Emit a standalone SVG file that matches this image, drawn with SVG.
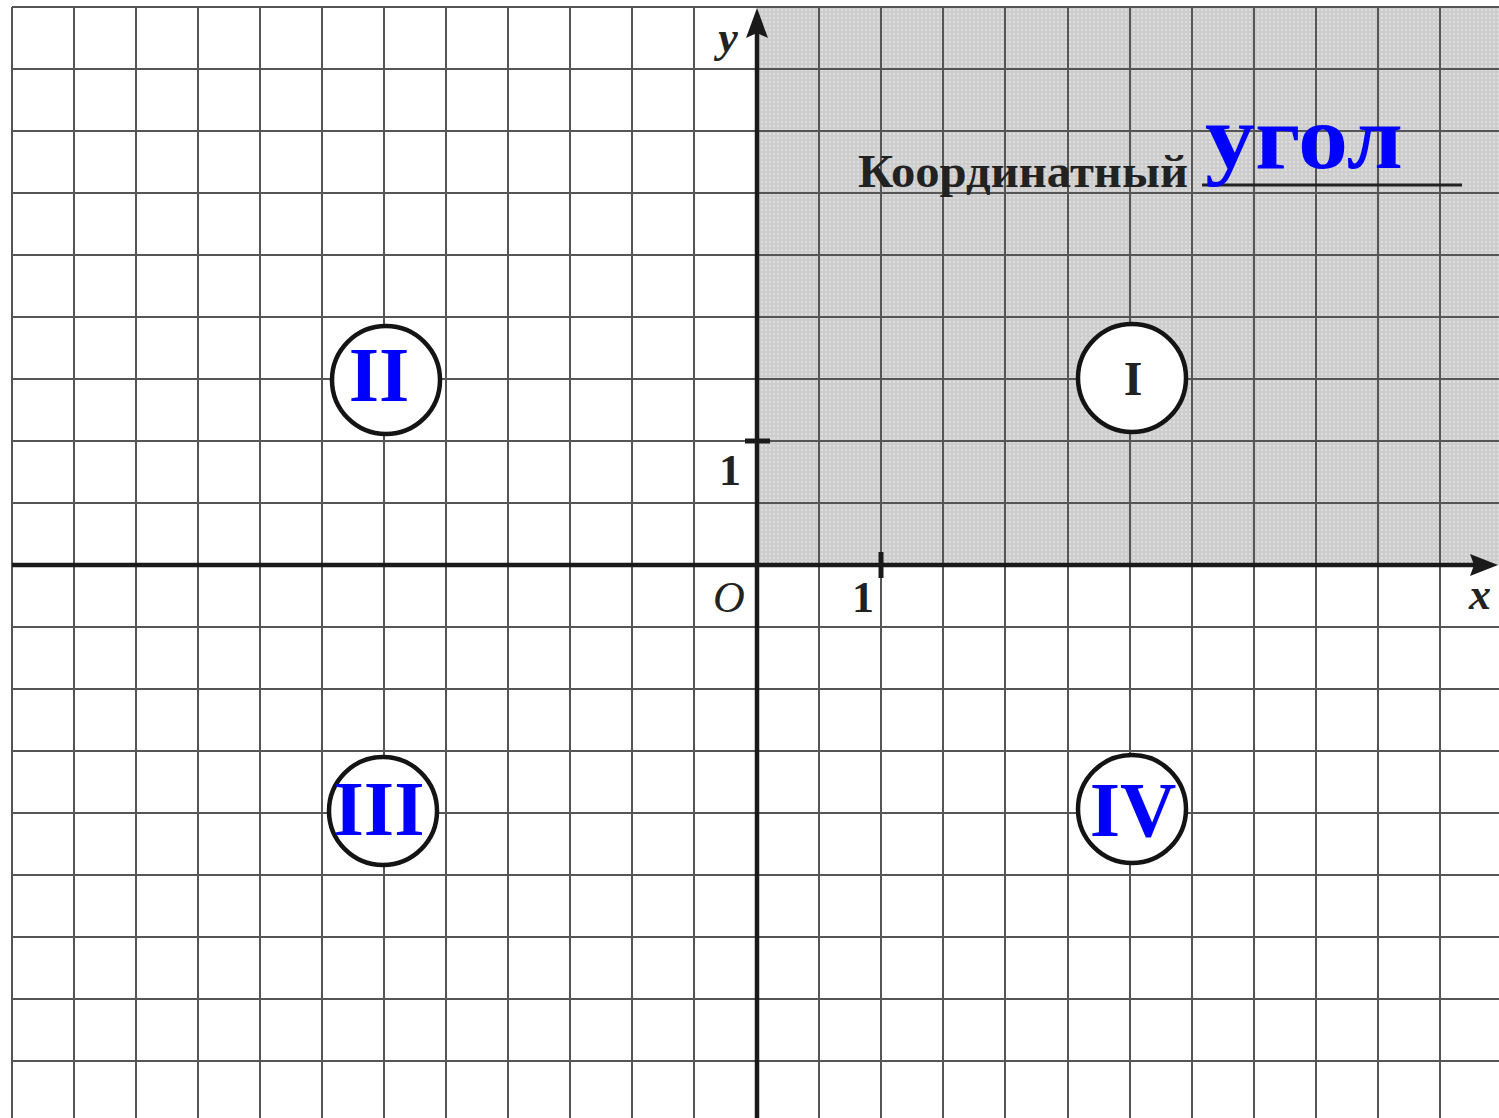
<svg xmlns="http://www.w3.org/2000/svg" width="1499" height="1118" viewBox="0 0 1499 1118">
  <defs>
    <pattern id="dots" width="4" height="4" patternUnits="userSpaceOnUse">
      <rect width="4" height="4" fill="#cdcdcd"/>
      <rect x="1" y="1" width="2" height="2" fill="#dedede"/>
    </pattern>
  </defs>
  <style>
    .grid line { stroke: #555555; stroke-width: 2; }
    .axis { stroke: #1a1a1a; stroke-width: 4.5; fill: none; }
    .tick { stroke: #1a1a1a; stroke-width: 5; }
    .arrow { fill: #1a1a1a; }
    .ring { fill: #ffffff; stroke: #141414; stroke-width: 4.5; }
    .roman { font-family: "Liberation Serif", "Times New Roman", serif; font-weight: bold; font-size: 78px; fill: #0000ff; text-anchor: middle; }
    .label { font-family: "Liberation Serif", "Times New Roman", serif; fill: #222222; }
    .ital { font-style: italic; font-size: 44px; }
    .num { font-size: 44px; font-weight: bold; text-anchor: middle; }
  </style>
  <rect x="0" y="0" width="1499" height="1118" fill="#ffffff"/>
  <rect x="757" y="8" width="742" height="557" fill="url(#dots)"/>
  <g class="grid" id="grid">
    <line x1="12" y1="7" x2="12" y2="1118"/>
    <line x1="74" y1="7" x2="74" y2="1118"/>
    <line x1="136" y1="7" x2="136" y2="1118"/>
    <line x1="198" y1="7" x2="198" y2="1118"/>
    <line x1="260" y1="7" x2="260" y2="1118"/>
    <line x1="322" y1="7" x2="322" y2="1118"/>
    <line x1="384" y1="7" x2="384" y2="1118"/>
    <line x1="446" y1="7" x2="446" y2="1118"/>
    <line x1="508" y1="7" x2="508" y2="1118"/>
    <line x1="570" y1="7" x2="570" y2="1118"/>
    <line x1="632" y1="7" x2="632" y2="1118"/>
    <line x1="694" y1="7" x2="694" y2="1118"/>
    <line x1="819" y1="7" x2="819" y2="1118"/>
    <line x1="881" y1="7" x2="881" y2="1118"/>
    <line x1="943" y1="7" x2="943" y2="1118"/>
    <line x1="1005" y1="7" x2="1005" y2="1118"/>
    <line x1="1068" y1="7" x2="1068" y2="1118"/>
    <line x1="1130" y1="7" x2="1130" y2="1118"/>
    <line x1="1192" y1="7" x2="1192" y2="1118"/>
    <line x1="1254" y1="7" x2="1254" y2="1118"/>
    <line x1="1316" y1="7" x2="1316" y2="1118"/>
    <line x1="1378" y1="7" x2="1378" y2="1118"/>
    <line x1="1440" y1="7" x2="1440" y2="1118"/>
    <line x1="12" y1="7" x2="1499" y2="7"/>
    <line x1="12" y1="69" x2="1499" y2="69"/>
    <line x1="12" y1="131" x2="1499" y2="131"/>
    <line x1="12" y1="193" x2="1499" y2="193"/>
    <line x1="12" y1="255" x2="1499" y2="255"/>
    <line x1="12" y1="317" x2="1499" y2="317"/>
    <line x1="12" y1="379" x2="1499" y2="379"/>
    <line x1="12" y1="441" x2="1499" y2="441"/>
    <line x1="12" y1="503" x2="1499" y2="503"/>
    <line x1="12" y1="627" x2="1499" y2="627"/>
    <line x1="12" y1="689" x2="1499" y2="689"/>
    <line x1="12" y1="751" x2="1499" y2="751"/>
    <line x1="12" y1="813" x2="1499" y2="813"/>
    <line x1="12" y1="875" x2="1499" y2="875"/>
    <line x1="12" y1="937" x2="1499" y2="937"/>
    <line x1="12" y1="999" x2="1499" y2="999"/>
    <line x1="12" y1="1061" x2="1499" y2="1061"/>
  </g>
  <g id="connectors">
    <line class="axis" x1="12" y1="565" x2="1478" y2="565"/>
    <polygon class="arrow" points="1498,565 1470,554 1474,565 1470,576"/>
    <line class="axis" x1="757" y1="1118" x2="757" y2="30"/>
    <polygon class="arrow" points="757,8 746,38 757,33 768,38"/>
    <line class="tick" x1="745" y1="441" x2="770" y2="441"/>
    <line class="tick" x1="881" y1="552" x2="881" y2="578"/>
  </g>
  <g id="axis-labels">
    <text class="label ital" x="728" y="52" text-anchor="middle" font-weight="bold">y</text>
    <text class="label ital" x="1480" y="609" text-anchor="middle" font-weight="bold">x</text>
    <text class="label ital" x="729" y="612" text-anchor="middle">O</text>
    <text class="label num" x="730" y="485">1</text>
    <text class="label num" x="863" y="612">1</text>
  </g>
  <g id="title">
    <text class="label" x="858" y="187" font-size="47" font-weight="bold" textLength="330" lengthAdjust="spacingAndGlyphs">Координатный</text>
    <line x1="1202" y1="185" x2="1462" y2="185" stroke="#222222" stroke-width="3"/>
    <text x="1205" y="168" font-family="'Liberation Serif', 'Times New Roman', serif" font-weight="bold" font-size="90" fill="#0000ff" textLength="198" lengthAdjust="spacingAndGlyphs">угол</text>
  </g>
  <g id="quadrant-I">
    <circle class="ring" cx="1132" cy="378" r="54"/>
    <text class="label" x="1133" y="395" text-anchor="middle" font-size="48" font-weight="bold">I</text>
  </g>
  <g id="quadrant-II">
    <circle class="ring" cx="386" cy="380" r="54"/>
    <text class="roman" x="379" y="401">II</text>
  </g>
  <g id="quadrant-III">
    <circle class="ring" cx="383" cy="811" r="54"/>
    <text class="roman" x="379" y="835">III</text>
  </g>
  <g id="quadrant-IV">
    <circle class="ring" cx="1132" cy="809" r="54"/>
    <text class="roman" x="1133" y="836">IV</text>
  </g>
</svg>
